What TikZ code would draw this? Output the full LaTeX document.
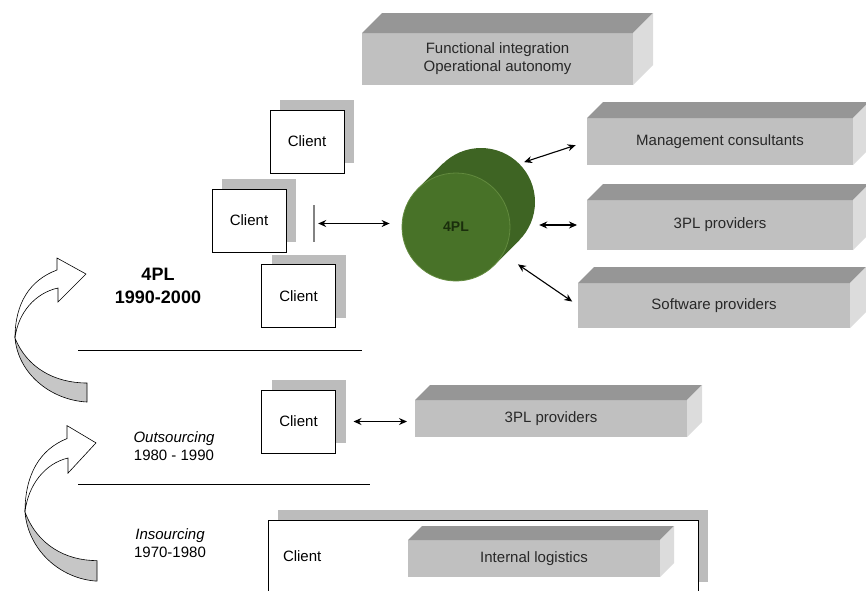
\documentclass[tikz,border=0pt]{standalone}
\usepackage{fontspec}
\setmainfont{Liberation Sans}
\usetikzlibrary{positioning,arrows.meta,shadows,calc}

\definecolor{blockfront}{RGB}{192,192,192}
\definecolor{blocktop}{RGB}{150,150,150}
\definecolor{blockside}{RGB}{220,220,220}
\definecolor{shadowgray}{RGB}{188,188,188}
\definecolor{barcolor}{RGB}{130,130,130}
\definecolor{cylfront}{RGB}{72,114,40}
\definecolor{cylbody}{RGB}{62,100,35}
\definecolor{cylrim}{RGB}{98,138,62}
\definecolor{labelgray}{RGB}{40,40,40}

\tikzset{
  block/.style={fill=blockfront, inner sep=0pt, outer sep=0pt, align=center,
    text=labelgray, font=\fontsize{15}{18}\selectfont},
  client/.style={draw, fill=white, line width=0.8pt, minimum width=74pt,
    minimum height=63pt, inner sep=0pt, outer sep=0pt,
    font=\fontsize{15}{18}\selectfont,
    general shadow={fill=shadowgray, shadow xshift=10pt, shadow yshift=10pt}},
  link/.style={{Stealth[length=8pt,width=7pt]}-{Stealth[length=8pt,width=7pt]},
    line width=1.1pt},
  era/.style={align=center, font=\fontsize{15}{18}\selectfont},
  turnarrow/.pic={
    \filldraw[fill=gray!45, line width=0.6pt] (0,0) .. controls (3,35) and (35,62) .. (72,64)
      -- (72,45) .. controls (40,45) and (12,30) .. (0,0) -- cycle;
    \filldraw[fill=white, line width=0.6pt] (42,-68) .. controls (15,-58) and (0,-35) .. (0,0)
      .. controls (3,-25) and (20,-45) .. (43,-50) -- (43,-36) -- (71,-64) -- (42,-80) -- cycle;
  }
}

% top and side faces of a grey block
\newcommand\blockfaces[2]{%
  \fill[blocktop] (#1.north west) -- ++(#2,-#2) -- ([shift={(#2,-#2)}]#1.north east)
    -- (#1.north east) -- cycle;
  \fill[blockside] (#1.north east) -- ++(#2,-#2) -- ([shift={(#2,-#2)}]#1.south east)
    -- (#1.south east) -- cycle;}

\begin{document}
\begin{tikzpicture}[x=1pt, y=-1pt]
  \useasboundingbox (0,0) rectangle (866,590);
  \clip (0,0) rectangle (866,590);

  % --- Top block ---
  \node[block, minimum width=271pt, minimum height=52pt] (integ) at (497.5,59)
    {Functional integration\\Operational autonomy};
  \blockfaces{integ}{20}

  % --- Partner blocks ---
  \node[block, minimum width=266pt, minimum height=47pt] (mgmt) at (720,141.5)
    {Management consultants};
  \node[block, minimum width=266pt, minimum height=50pt] (tpl) [below=35pt of mgmt]
    {3PL providers};
  \node[block, minimum width=272pt, minimum height=45pt] (soft) [below=33pt of tpl, xshift=-6pt]
    {Software providers};
  \blockfaces{mgmt}{16}
  \blockfaces{tpl}{16}
  \blockfaces{soft}{16}

  % --- 4PL clients ---
  \node[client] (c1) at (307,141.5) {Client};
  \node[client] (c2) at (249,220.5) {Client};
  \node[client] (c3) at (298.5,296) {Client};
  \node[fill=barcolor, minimum width=2pt, minimum height=37pt, inner sep=0pt] (bar)
    at (314,223.5) {};

  % --- 4PL cylinder ---
  \node[circle, fill=cylbody, minimum size=108pt, inner sep=0pt]
    (cylback) at (481,202) {};
  \fill[cylbody] (cylback.north west) -- (cylback.south east)
    -- ([shift={(-25,25)}]cylback.south east) -- ([shift={(-25,25)}]cylback.north west) -- cycle;
  \node[circle, fill=cylfront, draw=cylrim, line width=0.8pt, minimum size=108pt, inner sep=0pt,
    text={rgb,255:red,26;green,46;blue,12}, font=\fontsize{14}{16}\selectfont\bfseries]
    (cyl) at ([shift={(-25,25)}]cylback.center) {4PL};

  % --- 4PL links ---
  \draw[link, shorten <=3pt, shorten >=12pt] (bar.east) -- (bar.east -| cyl.west);
  \draw[link, shorten <=5pt, shorten >=12pt] (cylback.45) -- (mgmt.west);
  \draw[link, shorten <=4pt, shorten >=10pt] (cylback.east |- tpl.west) -- (tpl.west);
  \draw[link, shorten <=18pt, shorten >=7pt] (cyl.-30) -- (soft.west);

  % --- Outsourcing row ---
  \node[client] (c4) at (298.5,421.5) {Client};
  \node[block, minimum width=272pt, minimum height=37pt] (tpllow) at (551,418.5)
    {3PL providers};
  \blockfaces{tpllow}{15}
  \draw[link, shorten <=18pt, shorten >=8pt] (c4.east) -- (c4.east -| tpllow.west);

  % --- Insourcing row ---
  \node[client, minimum width=430pt, minimum height=72pt, text width=400pt, align=left]
    (ownclient) at (483,556) {Client};
  \node[block, minimum width=252pt, minimum height=37pt] (intlog) at (534,558.5)
    {Internal logistics};
  \blockfaces{intlog}{14}

  % --- Era separators and labels ---
  \draw[line width=0.8pt] (78,350) -- (362,350);
  \draw[line width=0.8pt] (78,484) -- (370,484);
  \node[era, font=\fontsize{18}{23}\selectfont\bfseries] (era4pl) at (158,286) {4PL\\1990-2000};
  \node[era] (eraout) at (174,446) {\textit{Outsourcing}\\1980 - 1990};
  \node[era] (erain) at (170,543) {\textit{Insourcing}\\1970-1980};

  % --- Curved era arrows ---
  \pic at (15,338) {turnarrow};
  \pic[yscale=1.08] at (25,512) {turnarrow};
\end{tikzpicture}
\end{document}
